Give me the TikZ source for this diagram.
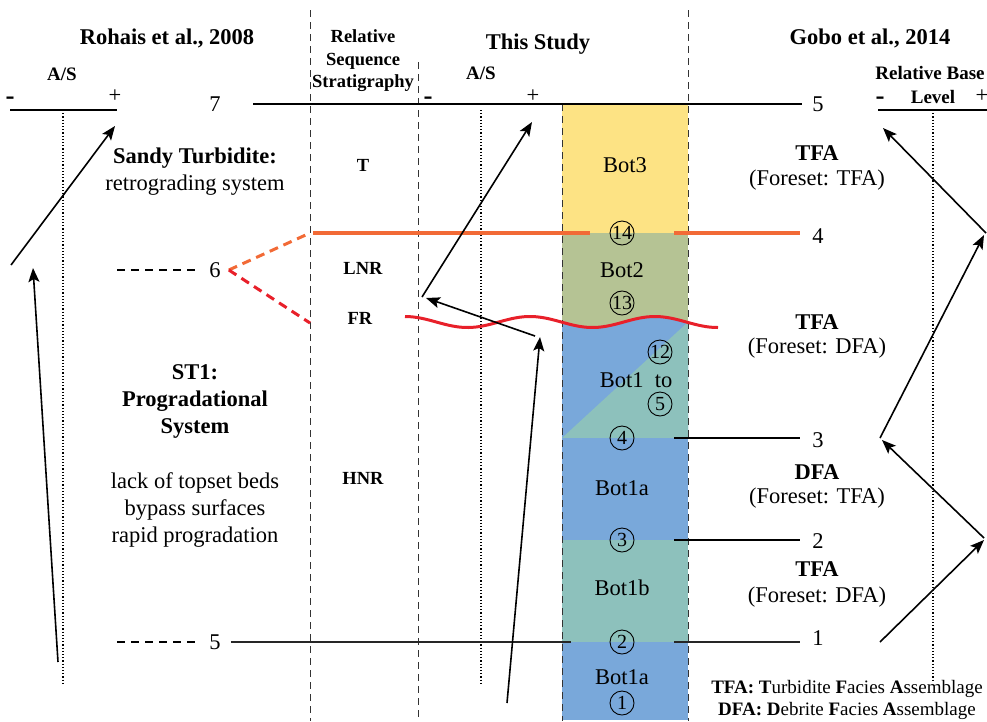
\documentclass[tikz,border=0pt]{standalone}
\usepackage{fontspec}
\setmainfont{Liberation Serif}
\usetikzlibrary{arrows.meta,positioning}

\definecolor{botyellow}{HTML}{FDE384}
\definecolor{botolive}{HTML}{B5C394}
\definecolor{botblue}{HTML}{79A8DA}
\definecolor{botteal}{HTML}{8DC1BC}
\definecolor{surforange}{HTML}{F26A36}
\definecolor{surfred}{HTML}{E8202A}

\tikzset{
  txt/.style={font=\fontsize{22.5}{27}\selectfont, inner sep=0pt, align=center},
  hdr/.style={font=\fontsize{22.5}{27}\selectfont\bfseries, inner sep=0pt, align=center},
  lbl/.style={font=\fontsize{18.5}{22.5}\selectfont\bfseries, inner sep=0pt, align=center},
  axlbl/.style={font=\fontsize{19}{20}\selectfont\bfseries, inner sep=0pt},
  sgn/.style={font=\fontsize{27}{27}\selectfont\bfseries, inner sep=0pt,
    text height=9pt, text depth=0pt},
  circnum/.style={draw, circle, line width=0.9pt, minimum size=24pt, inner sep=0pt,
    font=\fontsize{20}{20}\selectfont},
  arr/.style={line width=1.6pt, -{Stealth[length=14pt,width=11pt,inset=3pt]}},
  axis/.style={line width=1.6pt},
  coldash/.style={line width=0.8pt, dash pattern=on 7pt off 5pt, black!80},
  axdot/.style={line width=1.2pt, dotted},
}

\begin{document}
\begin{tikzpicture}[x=1pt,y=-1pt]
\useasboundingbox (0,0) rectangle (987,721);

% Column fills
\fill[botyellow] (562,104) rectangle (688,233);
\fill[botolive] (562,233) rectangle (688,330);
\fill[botblue] plot[domain=562:688, samples=30] (\x, {322-5.5*cos(2.88*(\x-405))})
  -- (688,438) -- (562,438) -- cycle;
\fill[botteal] (562,438) -- (688,322) -- (688,438) -- cycle;
\fill[botblue] (562,438) rectangle (688,540);
\fill[botteal] (562,540) rectangle (688,642);
\fill[botblue] (562,642) rectangle (688,720);

% Dashed column borders
\draw[coldash] (310,10) -- (310,721);
\draw[coldash] (418,62) -- (418,721);
\draw[coldash] (562,104) -- (562,721);
\draw[coldash] (688,10) -- (688,721);

% Dotted axes
\foreach \x/\yb in {63/683,481/683,933/680} {
    \draw[axdot] (\x,110) -- (\x,\yb);
}

% Headings
\node[hdr] (rohais) at (167,38) {Rohais et al., 2008};
\node[hdr] (study) at (538,44) {This Study};
\node[hdr] (gobo) at (870,38) {Gobo et al., 2014};
\node[lbl] (rss) at (363,61) {Relative\\Sequence\\Stratigraphy};

% A/S axes
\draw[axis] (10,110) -- (117,110);
\node[axlbl] (asL) at (62,74) {A/S};
\node[sgn] (mL) at (10,100) {-};
\node[txt] (pL) at (115,96) {+};
\node[axlbl] (asM) at (481,73) {A/S};
\node[sgn] (mM) at (428,100) {-};
\node[txt] (pM) at (533,96) {+};
\draw[axis] (878,110) -- (987,110);
\node[axlbl] (rbl) at (930,73) {Relative Base};
\node[axlbl] (lev) at (933,97) {Level};
\node[sgn] (mR) at (880,100) {-};
\node[txt] (pR) at (982,96) {+};

% Surfaces and their numbers
\node[txt] (n7) at (215,104) {7};
\node[txt] (n6) at (215,270) {6};
\node[txt] (n5l) at (215,642) {5};
\node[txt] (n5r) at (818,104) {5};
\node[txt] (n4) at (818,236) {4};
\node[txt] (n3) at (818,440) {3};
\node[txt] (n2) at (818,541) {2};
\node[txt] (n1) at (818,638) {1};
\draw[axis] (253,104) -- ([xshift=-10pt]n5r.west);
\draw[line width=3.2pt, surforange] (313,233) -- (590,233);
\draw[line width=3.2pt, surforange] (674,233) -- (800,233);
\draw[line width=1.5pt, dash pattern=on 8pt off 6pt] (117,270) -- ([xshift=-10pt]n6.west);
\draw[line width=1.5pt, dash pattern=on 8pt off 6pt] (117,642) -- ([xshift=-10pt]n5l.west);
\draw[line width=3pt, surforange, dash pattern=on 9pt off 6pt] ([xshift=8pt]n6.east) -- (310,233);
\draw[line width=3pt, surfred, dash pattern=on 9pt off 6pt] ([xshift=8pt]n6.east) -- (310,323);
\draw[line width=3pt, surfred] plot[domain=405:718, samples=80] (\x, {322-5.5*cos(2.88*(\x-405))});
\draw[line width=1.6pt] (674,438) -- (800,438);
\draw[line width=1.6pt] (674,540) -- (800,540);
\draw[line width=1.6pt, black!85] ([xshift=10pt]n5l.east) -- (571,642);
\draw[line width=1.6pt, black!85] (674,642) -- (800,642);

% Circled surface numbers
\foreach \n/\x/\y in {14/622/233,13/622/303,12/660/352,5/660/404,4/622/438,3/622/540,2/622/642,1/622/703} {
    \node[circnum] (c\n) at (\x,\y) {\n};
}

% Bottomset names
\node[txt] (bot3) at (625,165) {Bot3};
\node[txt] (bot2) at (622,270) {Bot2};
\node[txt] (bot1) at (636,380) {Bot1\ \ to};
\node[txt] (bot1a) at (622,488) {Bot1a};
\node[txt] (bot1b) at (622,588) {Bot1b};
\node[txt] (bot1alow) at (622,677) {Bot1a};

% Relative sequence stratigraphy
\node[lbl] (rT) at (363,165) {T};
\node[lbl] (rLNR) at (363,268) {LNR};
\node[lbl] (rFR) at (360,318) {FR};
\node[lbl] (rHNR) at (363,478) {HNR};

% Rohais interpretation
\node[hdr] (sandy) at (195,158) {Sandy Turbidite:};
\node[txt] (retro) at (195,185) {retrograding system};
\node[hdr] (st1) at (195,401) {ST1:\\Progradational\\System};
\node[txt] (lack) at (195,510) {lack of topset beds\\bypass surfaces\\rapid progradation};

% Gobo interpretation
\node[hdr] (g1) at (817,153) {TFA};
\node[txt] (g1f) at (817,180) {(Foreset: TFA)};
\node[hdr] (g2) at (817,322) {TFA};
\node[txt] (g2f) at (817,348) {(Foreset: DFA)};
\node[hdr] (g3) at (817,472) {DFA};
\node[txt] (g3f) at (817,498) {(Foreset: TFA)};
\node[hdr] (g4) at (817,569) {TFA};
\node[txt] (g4f) at (817,597) {(Foreset: DFA)};

% Legend
\node[txt, font=\fontsize{19}{22}\selectfont] (legend) at (847,700)
  {\textbf{TFA: T}urbidite \textbf{F}acies \textbf{A}ssemblage\\\textbf{DFA: D}ebrite \textbf{F}acies \textbf{A}ssemblage};

% Arrow end points
\coordinate (lA) at (11,265);
\coordinate (lB) at (115,126);
\coordinate (lC) at (58,662);
\coordinate (lD) at (33,268);
\coordinate (mA) at (422,297);
\coordinate (mB) at (532,122);
\coordinate (mC) at (535,336);
\coordinate (mD) at (426,298);
\coordinate (mE) at (507,703);
\coordinate (mF) at (540,337);
\coordinate (rA) at (986,233);
\coordinate (rB) at (883,128);
\coordinate (rC) at (880,438);
\coordinate (rD) at (984,235);
\coordinate (rE) at (984,538);
\coordinate (rF) at (882,440);
\coordinate (rG) at (880,642);
\coordinate (rH) at (984,540);

% Base level curves
\draw[arr] (lA) -- (lB);
\draw[arr] (lC) -- (lD);
\draw[arr] (mA) -- (mB);
\draw[arr] (mC) -- (mD);
\draw[arr] (mE) -- (mF);
\draw[arr] (rA) -- (rB);
\draw[arr] (rC) -- (rD);
\draw[arr] (rE) -- (rF);
\draw[arr] (rG) -- (rH);

\end{tikzpicture}
\end{document}
